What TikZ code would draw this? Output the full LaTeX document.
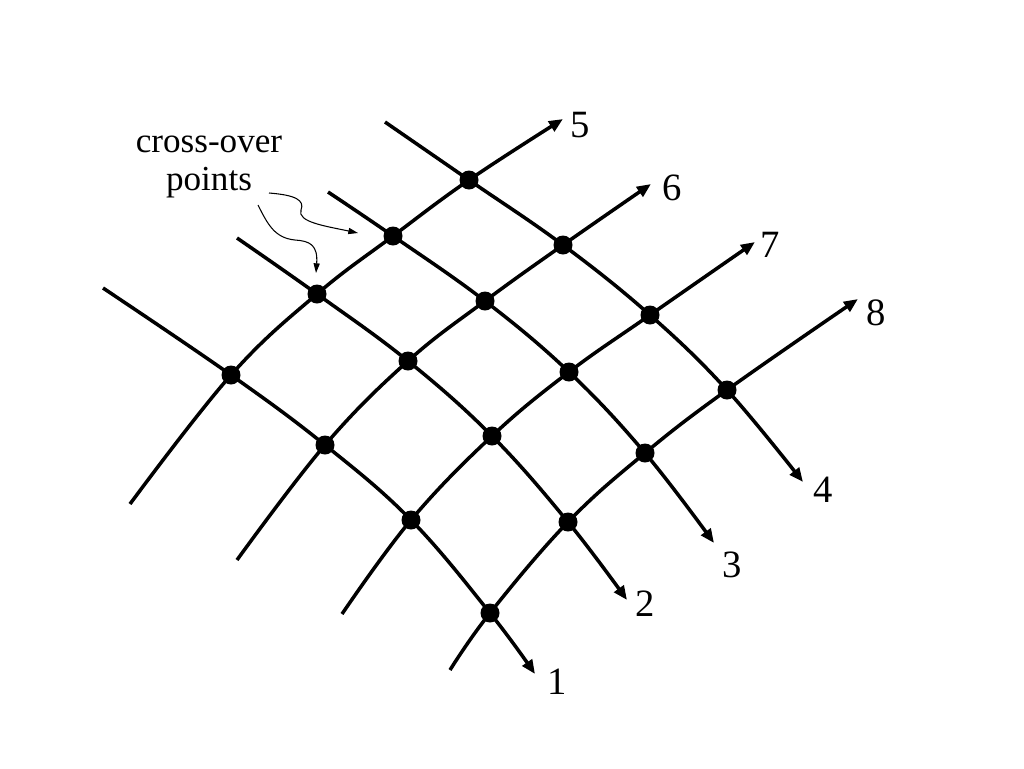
\documentclass[tikz,border=0pt]{standalone}
\usepackage{fontspec}
\setmainfont{Liberation Serif}
\usetikzlibrary{arrows.meta}

\begin{document}
\begin{tikzpicture}[
    x=0.02cm, y=-0.02cm,
    wire/.style={line width=2pt},
    arrwire/.style={wire,-{Triangle[length=8pt,width=6.5pt]}},
    dot/.style={circle,fill=black,inner sep=0pt,minimum size=0.38cm},
    num/.style={font=\fontsize{22}{26}\selectfont},
    note/.style={line width=0.6pt,-{Triangle[length=5.5pt,width=3.5pt]}}
  ]
    \useasboundingbox (0,0) rectangle (1024,768);

    % cross-over points
    \coordinate (p45) at (469,180); \coordinate (p46) at (563,245);
    \coordinate (p47) at (650,315); \coordinate (p48) at (727,390);
    \coordinate (p35) at (393,236); \coordinate (p36) at (485,301);
    \coordinate (p37) at (569,372); \coordinate (p38) at (645,453);
    \coordinate (p25) at (317,294); \coordinate (p26) at (408,361);
    \coordinate (p27) at (492,436); \coordinate (p28) at (568,522);
    \coordinate (p15) at (231,375); \coordinate (p16) at (325,445);
    \coordinate (p17) at (411,520); \coordinate (p18) at (490,613);

    % free ends
    \coordinate (s4) at (385,122); \coordinate (e4) at (803,482);
    \coordinate (s3) at (328,192); \coordinate (e3) at (714,543);
    \coordinate (s2) at (237,238); \coordinate (e2) at (627,600);
    \coordinate (s1) at (103,288); \coordinate (e1) at (535,674);
    \coordinate (s5) at (130,504); \coordinate (e5) at (563,119);
    \coordinate (s6) at (237,560); \coordinate (e6) at (651,184);
    \coordinate (s7) at (342,614); \coordinate (e7) at (755,242);
    \coordinate (s8) at (450,670); \coordinate (e8) at (858,299);

    \draw[arrwire] plot[smooth,tension=0.65] coordinates {(s4) (p45) (p46) (p47) (p48) (e4)};
    \draw[arrwire] plot[smooth,tension=0.65] coordinates {(s3) (p35) (p36) (p37) (p38) (e3)};
    \draw[arrwire] plot[smooth,tension=0.65] coordinates {(s2) (p25) (p26) (p27) (p28) (e2)};
    \draw[arrwire] plot[smooth,tension=0.65] coordinates {(s1) (p15) (p16) (p17) (p18) (e1)};
    \draw[arrwire] plot[smooth,tension=0.65] coordinates {(s5) (p15) (p25) (p35) (p45) (e5)};
    \draw[arrwire] plot[smooth,tension=0.65] coordinates {(s6) (p16) (p26) (p36) (p46) (e6)};
    \draw[arrwire] plot[smooth,tension=0.65] coordinates {(s7) (p17) (p27) (p37) (p47) (e7)};
    \draw[arrwire] plot[smooth,tension=0.65] coordinates {(s8) (p18) (p28) (p38) (p48) (e8)};

    \foreach \i in {1,...,4}
      \foreach \j in {5,...,8}
        \node[dot] (d\i\j) at (p\i\j) {};

    % line numbers
    \node[num] (l1) at (557,682) {1};
    \node[num] (l2) at (645,604) {2};
    \node[num] (l3) at (732,565) {3};
    \node[num] (l4) at (823,490) {4};
    \node[num] (l5) at (580,125) {5};
    \node[num] (l6) at (672,188) {6};
    \node[num] (l7) at (770,245) {7};
    \node[num] (l8) at (876,313) {8};

    \node[align=center,font=\fontsize{20}{21.5}\selectfont] (lbl) at (209,167)
      {cross-over\\points};
    \coordinate (w1) at (269,193); \coordinate (t1) at (358,233);
    \coordinate (w2) at (258,205); \coordinate (t2) at (316,273);
    \draw[note] (w1) .. controls (295,195) and (305,200) .. (301,210)
      .. controls (297,222) and (325,226) .. (t1);
    \draw[note] (w2) .. controls (268,225) and (275,238) .. (295,240)
      .. controls (310,241) and (318,245) .. (t2);
\end{tikzpicture}
\end{document}
